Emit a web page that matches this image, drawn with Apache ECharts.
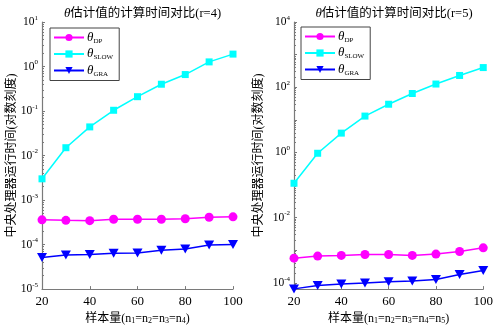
<!DOCTYPE html>
<html>
<head>
<meta charset="utf-8">
<script src="https://cdn.jsdelivr.net/npm/echarts@6/dist/echarts.min.js"></script>
<style>html,body{margin:0;padding:0;background:#fff}#c{width:496px;height:330px}</style>
</head>
<body>
<div id="c"></div>
<script>
var sampleSizes = [20, 30, 40, 50, 60, 70, 80, 90, 100];
var xTicks = [20, 40, 60, 80, 100];
var dpR4   = [3.6e-4, 3.5e-4, 3.45e-4, 3.7e-4, 3.7e-4, 3.7e-4, 3.8e-4, 4.1e-4, 4.2e-4];
var slowR4 = [3.0e-3, 0.015, 0.044, 0.104, 0.21, 0.40, 0.66, 1.27, 1.9];
var graR4  = [5.1e-5, 5.8e-5, 6.0e-5, 6.4e-5, 6.5e-5, 7.5e-5, 8.0e-5, 9.8e-5, 1.0e-4];
var dpR5   = [5.7e-4, 6.6e-4, 6.9e-4, 7.4e-4, 7.4e-4, 6.9e-4, 7.6e-4, 9.1e-4, 1.18e-3];
var slowR5 = [0.113, 0.94, 3.9, 13, 30, 64, 125, 229, 400];
var graR5  = [6.5e-5, 8.2e-5, 9.2e-5, 9.9e-5, 1.08e-4, 1.13e-4, 1.27e-4, 1.8e-4, 2.4e-4];
var seriesNames = ['DP', 'SLOW', 'GRA'];
var titles = ['{i|θ}估计值的计算时间对比(r=4)', '{i|θ}估计值的计算时间对比(r=5)'];
var xNames = ['样本量(n{s|1}=n{s|2}=n{s|3}=n{s|4})', '样本量(n{s|1}=n{s|2}=n{s|3}=n{s|4}=n{s|5})'];
var yName = '中央处理器运行时间(对数刻度)';

var FONT = '"Liberation Serif", "Noto Sans CJK SC", serif';
var AXIS_GRAY = '#7a7a7a';
var colors = {DP: '#ff00ff', SLOW: '#00ffff', GRA: '#0000ff'};
var symbols = {DP: 'circle', SLOW: 'rect', GRA: 'triangle'};
var symSizes = {DP: 9, SLOW: 7, GRA: [10, 9]};

function pairs(ys) { return sampleSizes.map(function (x, i) { return [x, ys[i]]; }); }

function logLabel(step) {
  return function (v) {
    var l = Math.log10(v);
    var e = Math.round(l);
    if (Math.abs(l - e) > 1e-6) return '';
    if (e % step !== 0) return '';
    return '{b|10}{e|' + e + '}';
  };
}

var richSup = {
  b: {fontSize: 11.5, fontFamily: FONT, color: '#000', lineHeight: 15},
  e: {fontSize: 7, fontFamily: FONT, color: '#000', lineHeight: 7, verticalAlign: 'top'}
};
var richSub = {
  s: {fontSize: 8, fontFamily: FONT, color: '#000', lineHeight: 8, verticalAlign: 'bottom'}
};

var grids = [
  {left: 42, top: 22, width: 191, height: 270},
  {left: 294, top: 22, width: 190, height: 271}
];
var yRanges = [[1e-5, 10, 1], [6.4e-5, 1e4, 2]];
var datasets = [[dpR4, slowR4, graR4], [dpR5, slowR5, graR5]];
var legendPos = [{left: 50, top: 28}, {left: 301, top: 27}];
var yNameGaps = [24, 29];

var option = {
  backgroundColor: '#fff',
  animation: false,
  title: [0, 1].map(function (k) {
    return {
      text: titles[k],
      left: grids[k].left + grids[k].width / 2,
      textAlign: 'center',
      top: 2,
      textStyle: {
        fontSize: 12.5, fontWeight: 'normal', fontFamily: FONT, color: '#000',
        rich: {i: {fontStyle: 'italic', fontSize: 13, fontFamily: FONT, color: '#000'}}
      }
    };
  }),
  legend: [0, 1].map(function (k) {
    return {
      data: seriesNames,
      orient: 'vertical',
      left: legendPos[k].left,
      top: legendPos[k].top,
      itemWidth: 30,
      itemHeight: 9,
      itemGap: 3,
      padding: [3, 6, 3, 3],
      borderColor: '#444',
      borderWidth: 1,
      backgroundColor: '#fff',
      borderRadius: 0,
      selectedMode: false,
      formatter: function (n) { return '{t|θ}{s|' + n + '}'; },
      textStyle: {
        fontFamily: FONT, color: '#000', padding: [0, 0, 0, -2],
        rich: {
          t: {fontSize: 13, fontStyle: 'italic', fontFamily: FONT, color: '#000', lineHeight: 14},
          s: {fontSize: 7, fontFamily: FONT, color: '#000', lineHeight: 7, verticalAlign: 'bottom'}
        }
      }
    };
  }),
  grid: grids,
  xAxis: [0, 1].map(function (k) {
    return {
      type: 'value', gridIndex: k, min: xTicks[0], max: xTicks[xTicks.length - 1], interval: 20,
      name: xNames[k], nameLocation: 'middle', nameGap: 19,
      nameTextStyle: {fontSize: 12, fontFamily: FONT, color: '#000', rich: richSub},
      axisLine: {lineStyle: {color: AXIS_GRAY, width: 1.2}},
      axisTick: {inside: true, length: 3, lineStyle: {color: AXIS_GRAY}},
      splitLine: {show: false},
      axisLabel: {fontSize: 13, fontFamily: FONT, color: '#000', margin: 6}
    };
  }),
  yAxis: [0, 1].map(function (k) {
    return {
      type: 'log', logBase: 10, gridIndex: k, min: yRanges[k][0], max: yRanges[k][1],
      name: yName, nameLocation: 'middle', nameGap: yNameGaps[k], nameMoveOverlap: false,
      nameTextStyle: {fontSize: 12, fontFamily: FONT, color: '#000'},
      axisLine: {lineStyle: {color: AXIS_GRAY, width: 1.2}},
      axisTick: {inside: true, length: 3, lineStyle: {color: AXIS_GRAY}},
      minorTick: {show: true, splitNumber: 9, length: 2, lineStyle: {color: AXIS_GRAY}},
      splitLine: {show: false},
      minorSplitLine: {show: false},
      axisLabel: {formatter: logLabel(yRanges[k][2]), margin: 4, rich: richSup,
                  showMinLabel: true}
    };
  }),
  series: []
};

[0, 1].forEach(function (k) {
  seriesNames.forEach(function (n, j) {
    option.series.push({
      name: n, type: 'line', xAxisIndex: k, yAxisIndex: k,
      data: pairs(datasets[k][j]),
      symbol: symbols[n], symbolSize: symSizes[n], symbolRotate: n === 'GRA' ? 180 : 0,
      showAllSymbol: true, clip: false,
      lineStyle: {color: colors[n], width: 1.5},
      itemStyle: {color: colors[n], borderWidth: 0}
    });
  });
});

var chart = echarts.init(document.getElementById('c'), null, {renderer: 'canvas'});
chart.setOption(option);
</script>
</body>
</html>
